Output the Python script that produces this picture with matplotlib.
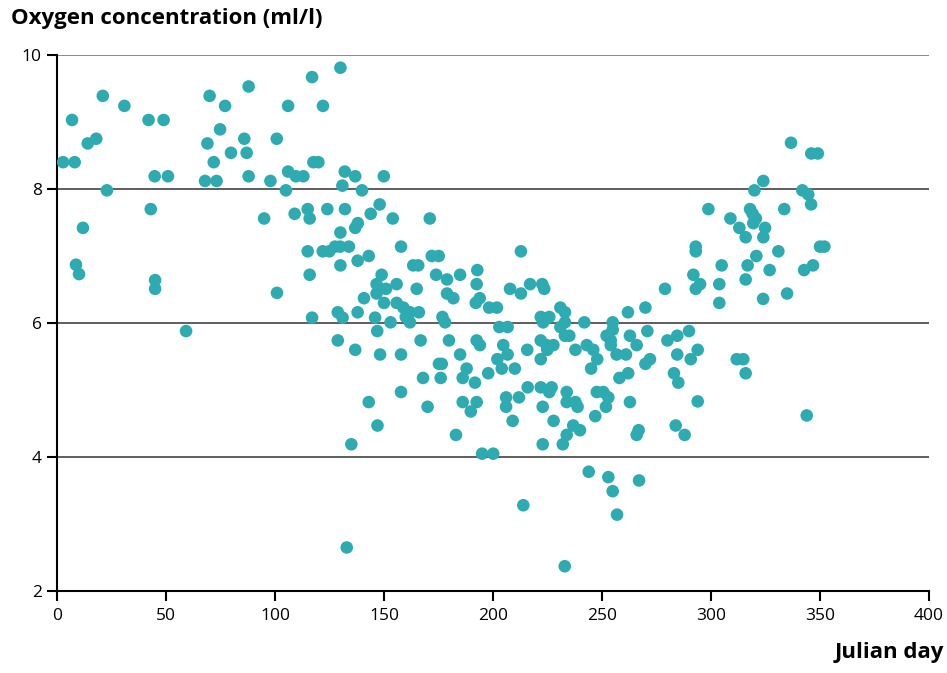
import matplotlib
matplotlib.use('Agg')
import matplotlib.pyplot as plt

# julian day / oxygen (ml/l)
day = [2.8, 8.1, 6.9, 21.0, 30.9, 14.1, 18.0, 22.9, 11.9, 8.7, 10.1, 42.0, 48.9, 44.8, 50.9,
       43.0, 45.0, 45.0, 59.2, 70.0, 77.1, 74.8, 69.0, 71.9, 79.8, 67.9, 73.2, 87.9, 85.9, 87.0,
       87.9, 97.9, 95.0, 100.8, 100.9,
       130.0, 117.0, 106.0, 122.0, 117.6, 119.9, 106.0, 109.6, 113.0, 105.0, 132.0, 136.8, 149.9,
       130.9, 139.9, 109.0, 115.0, 115.9, 124.0, 132.1, 130.0, 136.8, 138.0, 143.9, 148.0, 154.0, 171.0,
       115.0, 121.9, 124.9, 127.5, 129.8, 133.9, 157.8, 143.0, 137.9, 130.0, 115.9, 163.4, 165.7,
       171.9, 175.1, 148.9, 146.6, 150.9, 155.8, 146.6, 165.0, 173.9, 178.9, 184.9, 192.8, 178.9,
       181.8, 192.5, 192.1, 193.9, 140.8, 150.0, 155.8, 158.9, 161.9, 166.0, 117.0, 128.8, 131.0,
       137.9, 145.9, 153.0, 160.0, 161.9, 176.8, 178.0, 146.9, 128.8, 136.8, 148.2, 157.8, 166.8,
       179.8, 192.5, 194.0, 184.9, 175.2, 176.5, 187.9, 167.9, 176.0, 186.1, 191.7, 157.8, 143.0,
       170.0, 186.1, 189.8, 192.5, 147.0,
       212.8, 207.8, 212.8, 217.0, 222.6, 223.5, 198.2, 201.8, 230.9, 233.0, 261.9, 269.9, 278.9,
       202.9, 206.7, 221.9, 223.0, 225.8, 230.9, 233.0, 241.9, 254.9, 254.9, 233.0, 235.0, 252.1,
       254.0, 254.0, 262.8, 270.8, 280.0, 284.5, 204.7, 206.7, 221.9, 224.6, 227.7, 224.9, 221.9,
       215.7, 237.8, 243.0, 246.0, 247.8, 256.7, 261.0, 265.9, 284.5, 202.0, 204.0, 210.0, 197.8,
       245.0, 262.0, 258.0, 269.9, 272.0, 283.0, 285.0, 215.9, 221.9, 226.9, 225.8, 233.8, 233.8,
       237.8, 238.8, 247.6, 250.6, 252.9, 251.8, 262.8, 206.0, 206.0, 211.9, 222.8, 209.0, 227.8,
       246.9,
       135.0, 183.0, 195.0, 200.1, 222.8, 236.8, 239.9, 233.8, 232.0, 266.8, 265.9, 283.8, 287.9,
       243.9, 252.9, 254.9, 256.9, 267.0, 213.9, 132.9, 232.9,
       346.0, 349.0, 324.0, 319.9, 341.9, 344.6, 345.9, 333.6, 298.8, 308.9, 317.9, 319.1, 320.6,
       319.4, 324.8, 324.0, 313.0, 315.9, 293.0, 293.0, 330.9, 350.0, 352.0, 320.8, 304.9, 316.8,
       346.8, 342.7, 326.9, 291.9, 295.0, 293.0, 303.8, 315.9, 334.9, 323.9, 303.8, 289.9, 290.7,
       293.9, 293.9, 311.8, 314.8, 315.9, 343.9, 336.7]

oxygen = [8.40, 8.40, 9.03, 9.39, 9.24, 8.68, 8.75, 7.98, 7.42, 6.87, 6.73, 9.03, 9.03, 8.19, 8.19,
          7.70, 6.64, 6.51, 5.88, 9.39, 9.24, 8.89, 8.68, 8.40, 8.54, 8.12, 8.12, 9.53, 8.75, 8.54,
          8.19, 8.12, 7.56, 8.75, 6.45,
          9.81, 9.67, 9.24, 9.24, 8.40, 8.40, 8.26, 8.19, 8.19, 7.98, 8.26, 8.19, 8.19,
          8.05, 7.98, 7.63, 7.70, 7.56, 7.70, 7.70, 7.35, 7.42, 7.49, 7.63, 7.77, 7.56, 7.56,
          7.07, 7.07, 7.07, 7.14, 7.14, 7.14, 7.14, 7.00, 6.93, 6.86, 6.72, 6.86, 6.86,
          7.00, 7.00, 6.72, 6.58, 6.51, 6.58, 6.44, 6.51, 6.72, 6.65, 6.72, 6.79, 6.44,
          6.37, 6.58, 6.30, 6.37, 6.37, 6.30, 6.30, 6.23, 6.16, 6.16, 6.08, 6.16, 6.08,
          6.16, 6.08, 6.01, 6.09, 6.01, 6.09, 6.01, 5.88, 5.74, 5.60, 5.53, 5.53, 5.74,
          5.74, 5.74, 5.67, 5.53, 5.39, 5.39, 5.32, 5.18, 5.18, 5.18, 5.11, 4.97, 4.82,
          4.75, 4.82, 4.68, 4.82, 4.47,
          7.07, 6.51, 6.44, 6.58, 6.58, 6.51, 6.23, 6.23, 6.23, 6.16, 6.16, 6.23, 6.51,
          5.94, 5.94, 6.09, 6.01, 6.09, 5.94, 6.01, 6.01, 6.01, 5.90, 5.81, 5.81, 5.81,
          5.74, 5.67, 5.81, 5.88, 5.74, 5.81, 5.67, 5.53, 5.74, 5.67, 5.67, 5.60, 5.46,
          5.60, 5.60, 5.67, 5.60, 5.46, 5.53, 5.53, 5.67, 5.53, 5.46, 5.32, 5.32, 5.25,
          5.32, 5.25, 5.18, 5.39, 5.46, 5.25, 5.11, 5.04, 5.04, 5.04, 4.97, 4.97, 4.82,
          4.82, 4.75, 4.97, 4.97, 4.89, 4.75, 4.82, 4.89, 4.75, 4.89, 4.75, 4.54, 4.54,
          4.61,
          4.19, 4.33, 4.05, 4.05, 4.19, 4.47, 4.40, 4.33, 4.19, 4.40, 4.33, 4.47, 4.33,
          3.78, 3.70, 3.49, 3.14, 3.65, 3.28, 2.65, 2.37,
          8.53, 8.53, 8.12, 7.98, 7.98, 7.92, 7.77, 7.70, 7.70, 7.56, 7.70, 7.63, 7.56,
          7.49, 7.42, 7.28, 7.42, 7.28, 7.14, 7.07, 7.07, 7.14, 7.14, 7.00, 6.86, 6.86,
          6.86, 6.79, 6.79, 6.72, 6.58, 6.51, 6.58, 6.65, 6.44, 6.36, 6.30, 5.88, 5.46,
          5.60, 4.83, 5.46, 5.46, 5.25, 4.62, 8.69]

xticks = [0, 50, 100, 150, 200, 250, 300, 350, 400]
yticks = [2, 4, 6, 8, 10]

plt.rcParams['font.family'] = ['Open Sans', 'DejaVu Sans']

fig = plt.figure(figsize=(9.47, 6.73), dpi=100)
ax = fig.add_axes([0.0602, 0.1218, 0.9208, 0.7965])

for y in [4, 6, 8]:
    ax.axhline(y, color='#333333', lw=1.1, zorder=1)
ax.axhline(10, color='#808080', lw=1.3, zorder=1)

ax.scatter(day, oxygen, s=82, color='#2eabb0', edgecolors='none', zorder=3)

ax.set_xlim(0, 400)
ax.set_ylim(2, 10)
ax.set_xticks(xticks)
ax.set_yticks(yticks)
ax.tick_params(axis='both', direction='out', length=7, width=1.5, labelsize=12.5, colors='black')
ax.tick_params(axis='x', pad=5)
ax.tick_params(axis='y', pad=4)
for s in ['top', 'right']:
    ax.spines[s].set_visible(False)
for s in ['left', 'bottom']:
    ax.spines[s].set_linewidth(1.5)

fig.text(0.012, 0.972, 'Oxygen concentration (ml/l)', fontsize=16, fontweight='bold', va='center', ha='left')
fig.text(0.997, 0.015, 'Julian day', fontsize=16, fontweight='bold', va='bottom', ha='right')

fig.savefig('out.png', dpi=100)
